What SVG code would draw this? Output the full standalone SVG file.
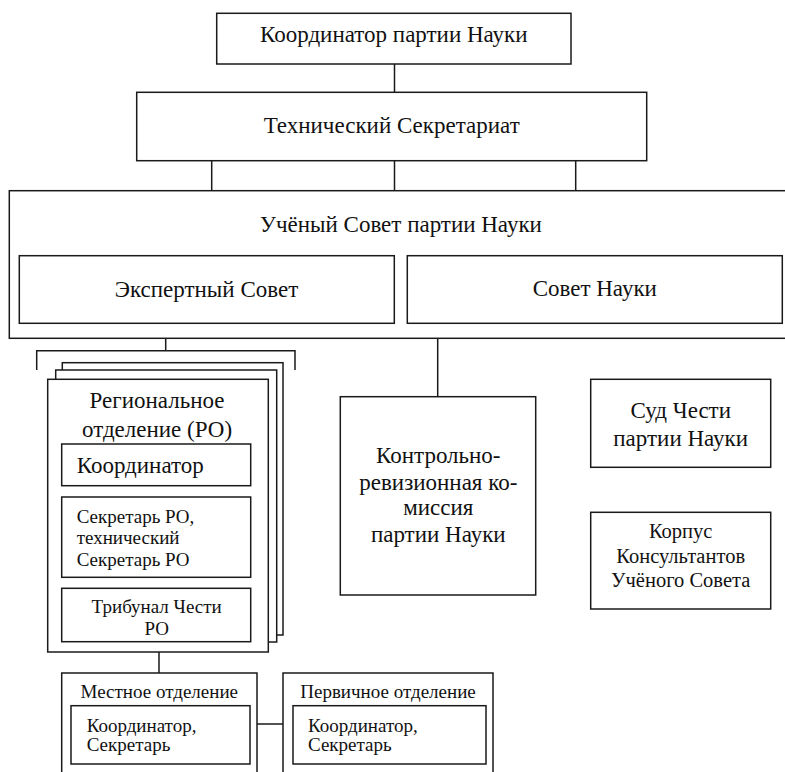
<svg xmlns="http://www.w3.org/2000/svg" width="785" height="772" viewBox="0 0 785 772" font-family="'Liberation Serif', 'Times New Roman', serif">
<style>
.b{fill:#fff;stroke:#1a1a1a;stroke-width:1.5}
.l{fill:none;stroke:#1a1a1a;stroke-width:1.5}
text{font-family:'Liberation Serif','Times New Roman',serif;fill:#111}
.L{font-size:23px}
.M{font-size:20.5px}
.S{font-size:19px}
.c{text-anchor:middle}
</style>
<rect x="0" y="0" width="785" height="772" fill="#fff"/>
<g id="connectors">
<path class="l" d="M394.5 64V92.3M211.7 160.7V190.7M394.5 160.7V190.7M575.7 160.7V190.7M165.7 338.3V350.7M36.7 370V350.7H295V370M437.7 338.3V396.7M159 652V673M257 724H283M159 485.7V497"/>
</g>
<g id="coordinator">
<rect class="b" x="216.7" y="13.3" width="354.3" height="50.7"/>
<text class="L c" x="393.8" y="42">Координатор партии Науки</text>
</g>
<g id="tech-secretariat">
<rect class="b" x="136.7" y="92.3" width="510" height="68.4"/>
<text class="L c" x="391.7" y="133.3">Технический Секретариат</text>
</g>
<g id="academic-council">
<rect class="b" x="9.3" y="190.7" width="784" height="147.6"/>
<text class="L c" x="400.8" y="231.7">Учёный Совет партии Науки</text>
</g>
<g id="expert-council">
<rect class="b" x="19.3" y="255.7" width="375" height="67.6"/>
<text class="L c" x="206.5" y="296.5">Экспертный Совет</text>
</g>
<g id="science-council">
<rect class="b" x="407.3" y="255.7" width="375" height="67.6"/>
<text class="L c" x="594.8" y="295.5">Совет Науки</text>
</g>
<g id="regional">
<rect class="b" x="62.3" y="362.7" width="220.7" height="272.3"/>
<rect class="b" x="55.7" y="370" width="221" height="272"/>
<rect class="b" x="47.7" y="379.3" width="220.6" height="272.7"/>
<text class="L c" x="157" y="408">Региональное</text>
<text class="L c" x="157" y="436.7">отделение (РО)</text>
</g>
<g id="ro-coordinator">
<rect class="b" x="61.7" y="444" width="189" height="41.7"/>
<text class="L" x="76.7" y="472.7">Координатор</text>
</g>
<g id="ro-secretary">
<rect class="b" x="61.7" y="497" width="189" height="80.3"/>
<text class="S" x="76.7" y="522.7">Секретарь РО,</text>
<text class="S" x="76.7" y="544">технический</text>
<text class="S" x="76.7" y="566">Секретарь РО</text>
</g>
<g id="ro-tribunal">
<rect class="b" x="61.7" y="588.3" width="189" height="53.4"/>
<text class="S c" x="156.7" y="612.7">Трибунал Чести</text>
<text class="S c" x="156.7" y="635">РО</text>
</g>
<g id="audit-commission">
<rect class="b" x="340.3" y="396.7" width="195.4" height="198.3"/>
<text class="L c" x="438.3" y="463.3">Контрольно-</text>
<text class="L c" x="438.3" y="489.5">ревизионная ко-</text>
<text class="L c" x="438.3" y="515">миссия</text>
<text class="L c" x="438.3" y="541.7">партии Науки</text>
</g>
<g id="court-of-honour">
<rect class="b" x="590.7" y="379.3" width="180" height="88"/>
<text class="L c" x="680.7" y="418.3">Суд Чести</text>
<text class="L c" x="680.7" y="446">партии Науки</text>
</g>
<g id="consultants">
<rect class="b" x="590.7" y="512.3" width="180" height="96.7"/>
<text class="M c" x="680.7" y="538.3">Корпус</text>
<text class="M c" x="680.7" y="562.7">Консультантов</text>
<text class="M c" x="680.7" y="587.3">Учёного Совета</text>
</g>
<g id="local-branch">
<rect class="b" x="61.7" y="673" width="195.3" height="110"/>
<text class="S c" x="159.3" y="697.7">Местное отделение</text>
<rect class="b" x="71" y="705.7" width="179" height="58.3"/>
<text class="S" x="86.7" y="731.7">Координатор,</text>
<text class="S" x="86.7" y="751">Секретарь</text>
</g>
<g id="primary-branch">
<rect class="b" x="283" y="673" width="210" height="110"/>
<text class="S c" x="388" y="697.7">Первичное отделение</text>
<rect class="b" x="293" y="705.7" width="193" height="58.3"/>
<text class="S" x="308" y="731.7">Координатор,</text>
<text class="S" x="308" y="751">Секретарь</text>
</g>
</svg>
